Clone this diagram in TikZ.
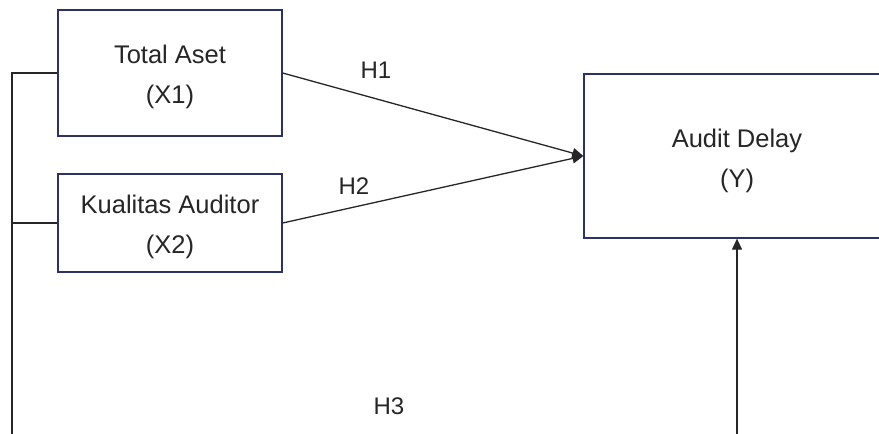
\documentclass[tikz,border=0pt]{standalone}
\usepackage{fontspec}
\setmainfont{Liberation Sans}
\usetikzlibrary{arrows.meta}
\definecolor{boxline}{HTML}{2B3266}
\definecolor{txt}{HTML}{262626}
\tikzset{
  varbox/.style={draw=boxline, line width=1.3pt, fill=white, inner sep=0pt},
  boxtext/.style={align=center, inner sep=0pt, text=txt, font=\fontsize{25.5}{40}\selectfont},
  conn/.style={draw=black!85, line width=1.3pt},
  arr/.style={conn, -{Triangle[length=11pt,width=10pt]}},
  hlabel/.style={text=txt, font=\fontsize{24}{28}\selectfont, inner sep=0pt}
}
\begin{document}
\begin{tikzpicture}[x=1pt,y=-1pt]
\useasboundingbox (0,0) rectangle (879,434);
\clip (0,0) rectangle (879,434);
\node[varbox, minimum width=224pt, minimum height=126pt] (x1) at (170,73) {};
\node[varbox, minimum width=224pt, minimum height=98pt] (x2) at (170,223) {};
\node[varbox, minimum width=306pt, minimum height=164pt] (y) at (737,156) {};
\node[boxtext, yshift=-3.5pt] (x1t) at (x1.center) {Total Aset\\(X1)};
\node[boxtext, yshift=-4pt] (x2t) at (x2.center) {Kualitas Auditor\\(X2)};
\node[boxtext, yshift=-4.5pt] (yt) at (y.center) {Audit Delay\\(Y)};
\coordinate (b1) at (12,73);
\coordinate (b2) at (12,223);
\coordinate (bend) at (12,445);
\coordinate (rstart) at (737,445);
\draw[conn] (x1.west) -- (b1) -- (bend);
\draw[conn] (x2.west) -- (b2);
\draw[arr] (x1.east) -- (y.west);
\draw[arr] (x2.east) -- (y.west);
\draw[arr] (rstart) -- (y.south);
\node[hlabel] (h1) at (376,70) {H1};
\node[hlabel] (h2) at (354,186) {H2};
\node[hlabel] (h3) at (389,406) {H3};
\end{tikzpicture}
\end{document}
